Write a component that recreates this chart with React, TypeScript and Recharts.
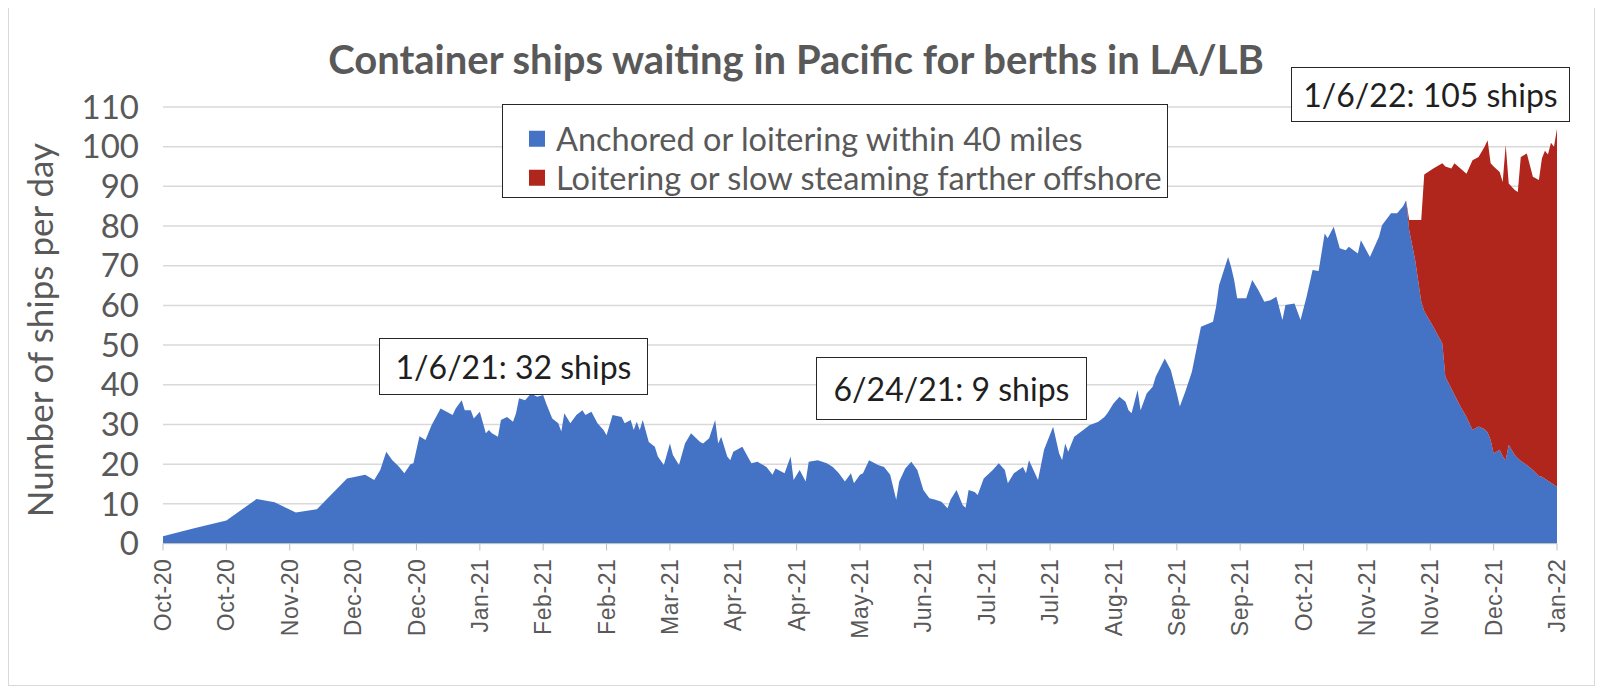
import { AreaChart, Area, XAxis, YAxis, CartesianGrid } from 'recharts';

// day 0 = Oct 1, 2020; one axis tick every 21 days, last tick = Jan 6, 2022
const tickLabels = [
  'Oct-20', 'Oct-20', 'Nov-20', 'Dec-20', 'Dec-20', 'Jan-21', 'Feb-21', 'Feb-21',
  'Mar-21', 'Apr-21', 'Apr-21', 'May-21', 'Jun-21', 'Jul-21', 'Jul-21', 'Aug-21',
  'Sep-21', 'Sep-21', 'Oct-21', 'Nov-21', 'Nov-21', 'Dec-21', 'Jan-22',
];
const yTicks = [0, 10, 20, 30, 40, 50, 60, 70, 80, 90, 100, 110];

const days = [
  0, 10, 21, 31, 37, 44, 51, 61, 67, 70,
  72, 74, 76, 78, 80, 82, 83, 85, 87, 89,
  92, 94, 96, 97, 99, 100, 102, 103, 105, 107,
  108, 109, 111, 112, 114, 116, 117, 118, 120, 122,
  124, 126, 127, 129, 131, 132, 133, 135, 137, 139,
  140, 142, 144, 146, 147, 149, 152, 153, 155, 156,
  157, 158, 159, 161, 163, 164, 166, 168, 169, 171,
  173, 175, 178, 179, 181, 183, 184, 185, 187, 188,
  189, 192, 195, 197, 200, 202, 203, 206, 208, 209,
  211, 213, 214, 217, 220, 222, 224, 226, 228, 229,
  231, 232, 234, 237, 239, 241, 243, 244, 246, 248,
  250, 252, 254, 256, 258, 260, 261, 263, 265, 266,
  267, 269, 270, 272, 275, 277, 279, 280, 282, 285,
  286, 287, 290, 292, 295, 297, 298, 299, 300, 302,
  305, 307, 310, 312, 313, 315, 317, 319, 320, 321,
  323, 324, 326, 328, 329, 332, 334, 336, 337, 339,
  341, 344, 348, 349, 350, 353, 354, 355, 356, 359,
  361, 363, 365, 367, 369, 371, 372, 375, 377, 379,
  381, 383, 385, 386, 388, 390, 392, 393, 396, 397,
  400, 403, 404, 407, 409, 411,
  412, 413, 415, 417, 418, 421, 424, 425, 427, 428,
  430, 432, 434, 436, 438, 439, 440, 441, 443, 444,
  445, 446, 448, 449, 450, 452, 454, 456, 457, 458,
  459, 460, 461, 462,
];

const anchored = [
  1.8, 3.8, 5.8, 11.2, 10.4, 7.8, 8.6, 16.4, 17.3, 16.0,
  18.5, 23.1, 21.0, 19.5, 17.7, 20.0, 20.2, 27.0, 26.1, 29.8,
  34.0, 33.2, 32.4, 34.0, 36.1, 33.6, 33.6, 31.5, 33.2, 27.8,
  28.6, 27.8, 26.9, 31.1, 31.9, 30.7, 32.8, 36.6, 36.1, 37.8,
  37.0, 37.4, 35.3, 31.5, 30.3, 28.2, 32.8, 30.3, 32.4, 33.6,
  32.4, 33.2, 30.3, 28.6, 27.3, 32.4, 31.9, 30.3, 31.1, 28.6,
  30.7, 28.6, 31.1, 25.6, 24.4, 21.9, 19.8, 25.2, 22.3, 19.8,
  25.2, 27.8, 25.6, 25.2, 26.5, 31.1, 25.2, 26.9, 21.9, 21.0,
  23.1, 24.4, 20.2, 20.6, 19.3, 17.3, 18.9, 17.7, 21.9, 16.0,
  18.5, 15.6, 20.6, 21.0, 20.2, 19.3, 17.7, 15.6, 17.7, 15.2,
  17.3, 17.7, 21.0, 19.8, 19.3, 17.3, 11.0, 15.6, 18.9, 20.6,
  18.5, 13.5, 11.4, 11.0, 10.5, 8.9, 11.0, 13.5, 9.7, 9.0,
  13.5, 13.0, 12.2, 16.4, 18.5, 20.2, 18.5, 15.2, 17.7, 19.3,
  17.7, 21.0, 16.0, 23.6, 29.4, 22.7, 21.0, 25.2, 23.1, 26.9,
  28.6, 29.8, 30.7, 31.9, 32.8, 35.3, 37.0, 35.7, 33.6, 32.8,
  38.7, 33.6, 37.8, 39.5, 42.0, 46.6, 43.7, 37.8, 34.5, 38.7,
  43.3, 54.6, 55.9, 59.6, 65.1, 72.2, 69.7, 66.4, 61.8, 61.8,
  66.4, 63.9, 60.9, 61.3, 62.2, 56.3, 60.1, 60.5, 56.3, 62.2,
  68.9, 68.7, 78.1, 76.9, 79.8, 74.4, 73.9, 74.8, 73.1, 76.4,
  72.2, 77.3, 80.2, 83.2, 83.2, 85.0,
  86.5, 79.0, 71.4, 61.0, 58.5, 54.6, 50.4, 42.0, 39.0, 37.5,
  34.5, 31.9, 28.6, 29.5, 28.8, 28.0, 26.1, 22.7, 23.6, 22.0,
  21.0, 24.8, 22.3, 21.5, 20.8, 19.8, 18.5, 17.0, 16.8, 16.3,
  15.8, 15.3, 14.8, 14.3,
];

// offshore ships, aligned with the last entries of `days` (from day 412 on)
const offshore = [
  0, 2.5, 10.1, 20.5, 34.5, 39.9, 45.4, 53.0, 55.5, 58.3,
  60.0, 61.3, 68.0, 67.9, 71.2, 73.6, 69.7, 72.3, 70.0, 69.1,
  79.4, 65.9, 66.8, 67.1, 76.6, 78.5, 73.9, 74.6, 80.2, 82.7,
  82.2, 85.7, 85.2, 90.2,
];

const BLUE = '#4472C4';
const RED = '#B0251C';
const GREY_TEXT = '#595959';

const offshoreStart = days.length - offshore.length;
const data = days.map((day, i) => ({
  day,
  anchored: anchored[i],
  offshore: i >= offshoreStart ? offshore[i - offshoreStart] : 0,
}));
const xTicks = tickLabels.map((_, i) => i * 21);

const XTick = ({ x, y, payload }: any) => {
  const label = tickLabels[Math.round(payload.value / 21)];
  return (
    <text
      x={x}
      y={y}
      dy="0.35em"
      transform={`rotate(-90 ${x} ${y})`}
      textAnchor="end"
      fill={GREY_TEXT}
      fontFamily="'Liberation Sans', Arial, sans-serif"
      fontSize={23}
      letterSpacing={0.6}
    >
      {label}
    </text>
  );
};

const boxStyle: React.CSSProperties = {
  position: 'absolute',
  background: '#fff',
  border: '1.5px solid #262626',
  boxSizing: 'border-box',
  display: 'flex',
  alignItems: 'center',
  justifyContent: 'center',
  fontSize: 32,
  color: '#1f1f1f',
  whiteSpace: 'nowrap',
};

export default function App() {
  return (
    <div style={{ position: 'relative', width: 1588, height: 680, fontFamily: 'Lato, sans-serif', background: '#fff' }}>
      <AreaChart
        width={1588}
        height={680}
        data={data}
        margin={{ top: 99, right: 39, left: 0, bottom: 10 }}
      >
        <CartesianGrid vertical={false} stroke="#D9D9D9" strokeWidth={1.5} />
        <XAxis
          dataKey="day"
          type="number"
          domain={[0, 462]}
          ticks={xTicks}
          interval={0}
          height={134.5}
          tick={<XTick />}
          tickSize={7}
          tickMargin={8}
          axisLine={{ stroke: '#BFBFBF' }}
          tickLine={{ stroke: '#BFBFBF' }}
        />
        <YAxis
          type="number"
          domain={[0, 110]}
          ticks={yTicks}
          interval={0}
          width={155}
          axisLine={false}
          tickLine={false}
          tickSize={0}
          tickMargin={24}
          tick={{ fill: GREY_TEXT, fontSize: 33, fontFamily: 'Lato, sans-serif' }}
        />
        <Area
          type="linear"
          dataKey="anchored"
          stackId="ships"
          stroke="none"
          fill={BLUE}
          fillOpacity={1}
          isAnimationActive={false}
        />
        <Area
          type="linear"
          dataKey="offshore"
          stackId="ships"
          stroke="none"
          fill={RED}
          fillOpacity={1}
          isAnimationActive={false}
        />
      </AreaChart>

      {/* frame */}
      <div style={{ position: 'absolute', left: 0, top: -1, width: 1587, height: 679, border: '1.5px solid #D9D9D9', boxSizing: 'border-box', pointerEvents: 'none' }} />

      {/* title */}
      <div style={{ position: 'absolute', left: 0, width: 1576, top: 31, textAlign: 'center', fontSize: 40, fontWeight: 700, color: GREY_TEXT, lineHeight: 1 }}>
        Container ships waiting in Pacific for berths in LA/LB
      </div>

      {/* y axis title */}
      <div style={{ position: 'absolute', left: 31, top: 322, width: 0, height: 0 }}>
        <div style={{ position: 'absolute', transform: 'translate(-50%, -50%) rotate(-90deg)', whiteSpace: 'nowrap', fontSize: 35, color: GREY_TEXT, lineHeight: 1 }}>
          Number of ships per day
        </div>
      </div>

      {/* legend */}
      <div style={{ position: 'absolute', left: 494, top: 96, width: 666, height: 94, background: '#fff', border: '1.5px solid #262626', boxSizing: 'border-box', fontSize: 32.5, color: GREY_TEXT }}>
        {[
          { name: 'Anchored or loitering within 40 miles', color: BLUE, top: 34 },
          { name: 'Loitering or slow steaming farther offshore', color: RED, top: 73 },
        ].map((item) => (
          <div key={item.name} style={{ position: 'absolute', left: 26, top: item.top, transform: 'translateY(-50%)', display: 'flex', alignItems: 'center', whiteSpace: 'nowrap' }}>
            <span style={{ width: 16, height: 16, background: item.color, marginRight: 11, display: 'inline-block' }} />
            <span style={{ lineHeight: 1 }}>{item.name}</span>
          </div>
        ))}
      </div>

      {/* annotations */}
      <div style={{ ...boxStyle, left: 371, top: 330, width: 269, height: 57 }}>1/6/21: 32 ships</div>
      <div style={{ ...boxStyle, left: 808, top: 349, width: 271, height: 63 }}>6/24/21: 9 ships</div>
      <div style={{ ...boxStyle, left: 1283, top: 59, width: 279, height: 55 }}>1/6/22: 105 ships</div>
    </div>
  );
}
